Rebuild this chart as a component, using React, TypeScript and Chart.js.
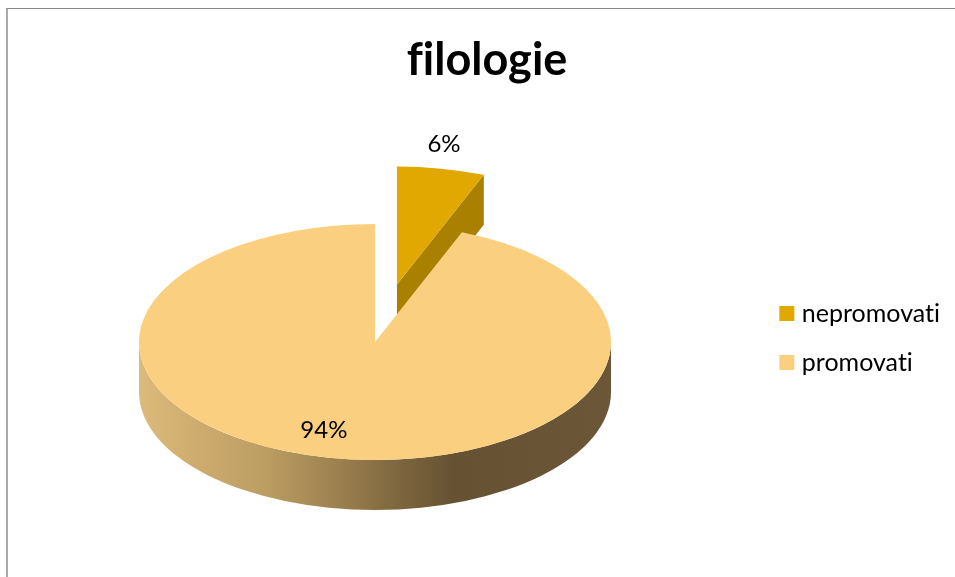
import React, { useEffect, useRef } from "react";
import { Chart, registerables } from "chart.js";

Chart.register(...registerables);

const categories = ["nepromovati", "promovati"];
const values = [6, 94];
const explode = [117, 0];
const topColors = ["#E0A800", "#FBCF80"];
const edgeColors = ["#A98000", "#6B5637"];
const titleText = "filologie";

const FONT = "Lato, Carlito, sans-serif";
const TARGET_X = 375;
const TARGET_Y = 342;
const SQUASH = 0.5;
const DEPTH = 50;
const RADIUS = 236;
const labelK = [1.2, 0.75];
const labelNudge = [-6, -18];
const labelLift = [-1, 1];

const wallStops: [number, string][] = [
  [139, "#DCBA7A"],
  [210, "#CBA96D"],
  [270, "#BA9C61"],
  [340, "#9B7F4E"],
  [400, "#7D663E"],
  [452, "#665233"],
  [610, "#6B5637"],
];

const plainText = (chart: any) => {
  chart.ctx.textRendering = "optimizeSpeed";
};

const pie3d = {
  id: "pie3d",
  beforeUpdate: plainText,
  beforeDraw: plainText,
  beforeDatasetDraw(chart: any) {
    const ctx = chart.ctx;
    const arcs = chart.getDatasetMeta(0).data;
    const cx = arcs[0].x;
    const cy = arcs[0].y;
    const px = (x: number) => TARGET_X + (x - cx);
    const py = (y: number) => TARGET_Y + (y - cy) * SQUASH;

    arcs.forEach((arc: any, i: number) => {
      const off = explode[i];
      const mid = (arc.startAngle + arc.endAngle) / 2;
      const ox = Math.cos(mid) * off;
      const oy = Math.sin(mid) * off;
      const ax = arc.x + ox;
      const ay = arc.y + oy;
      const R = arc.outerRadius;
      const ex = px(ax);
      const ey = py(ay);

      // flat faces of a slice cut
      [
        [arc.endAngle, Math.cos(arc.endAngle)],
        [arc.startAngle, -Math.cos(arc.startAngle)],
      ].forEach(([t, facing]) => {
        if (facing > 1e-6) {
          const qx = px(ax + Math.cos(t) * R);
          const qy = py(ay + Math.sin(t) * R);
          ctx.beginPath();
          ctx.moveTo(ex, ey);
          ctx.lineTo(qx, qy);
          ctx.lineTo(qx, qy + DEPTH);
          ctx.lineTo(ex, ey + DEPTH);
          ctx.closePath();
          ctx.fillStyle = edgeColors[i];
          ctx.fill();
        }
      });

      // outer rim, the front half only
      const a0 = Math.max(arc.startAngle, 0);
      const a1 = Math.min(arc.endAngle, Math.PI);
      if (a1 > a0) {
        const g = ctx.createLinearGradient(139, 0, 610, 0);
        wallStops.forEach(([x, c]) => g.addColorStop((x - 139) / (610 - 139), c));
        ctx.beginPath();
        ctx.ellipse(ex, ey, R, R * SQUASH, 0, a0, a1, false);
        ctx.ellipse(ex, ey + DEPTH, R, R * SQUASH, 0, a1, a0, true);
        ctx.closePath();
        ctx.fillStyle = g;
        ctx.fill();
      }

      // the slice's top face, drawn by the library's own arc element
      ctx.save();
      ctx.translate(TARGET_X, TARGET_Y);
      ctx.scale(1, SQUASH);
      ctx.translate(-cx + ox, -cy + oy);
      arc.draw(ctx, chart.chartArea);
      ctx.restore();
    });

    const total = values.reduce((a, b) => a + b, 0);
    ctx.save();
    ctx.font = `24px ${FONT}`;
    ctx.fillStyle = "#000";
    ctx.textAlign = "center";
    ctx.textBaseline = "middle";
    arcs.forEach((arc: any, i: number) => {
      const mid = (arc.startAngle + arc.endAngle) / 2;
      const r = explode[i] + arc.outerRadius * labelK[i];
      const x = TARGET_X + (arc.x - cx) + Math.cos(mid) * r + labelNudge[i];
      const y = TARGET_Y + (arc.y - cy + Math.sin(mid) * r) * SQUASH + labelLift[i];
      ctx.fillText(`${Math.round((values[i] / total) * 100)}%`, x, y);
    });
    ctx.restore();
    return false;
  },
};

export default function App() {
  const ref = useRef<HTMLCanvasElement>(null);
  useEffect(() => {
    const baseLabels = (Chart as any).overrides.pie.plugins.legend.labels.generateLabels;
    const chart = new Chart(ref.current!, {
      type: "pie",
      plugins: [pie3d],
      data: {
        labels: categories,
        datasets: [
          {
            data: values,
            backgroundColor: topColors,
            borderWidth: 0,
            radius: RADIUS,
          } as any,
        ],
      },
      options: {
        animation: false,
        responsive: false,
        layout: { padding: { left: 24, right: 5, top: 0, bottom: 0 } },
        plugins: {
          tooltip: { enabled: false },
          title: {
            display: true,
            text: titleText,
            color: "#000",
            font: { family: FONT, size: 45, weight: "bold" },
            padding: { top: 33, bottom: 12 },
          },
          legend: {
            position: "right",
            fullSize: false,
            labels: {
              color: "#000",
              font: { family: FONT, size: 25 },
              boxWidth: 5,
              boxHeight: 5,
              padding: 24,
              generateLabels: (c: any) =>
                baseLabels(c).map((item: any) => ({
                  ...item,
                  strokeStyle: item.fillStyle,
                  lineWidth: 10,
                })),
            },
          },
        },
      },
    });
    return () => chart.destroy();
  }, []);
  return (
    <div style={{ position: "absolute", left: 0, top: 0, width: 955, height: 577, background: "#fff", overflow: "hidden" }}>
      <canvas ref={ref} width={955} height={577} style={{ display: "block" }} />
      <div style={{ position: "absolute", left: 6, top: 8, right: 0, bottom: 0, borderLeft: "2px solid #aaa", borderTop: "1px solid #888", pointerEvents: "none" }} />
    </div>
  );
}
